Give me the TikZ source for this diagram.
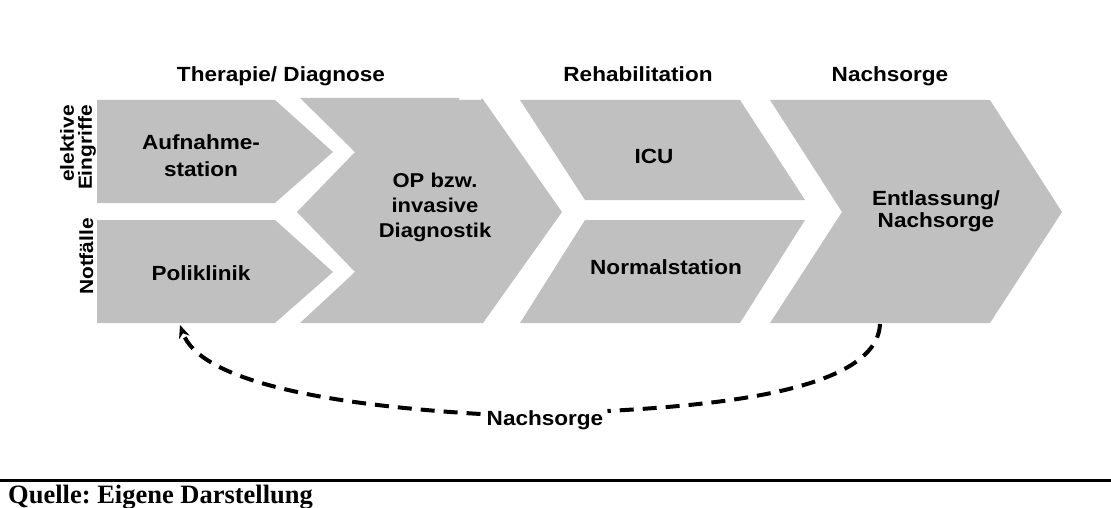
\documentclass[tikz,border=0pt]{standalone}
\usepackage{fontspec}
\setmainfont{Liberation Sans}
\newfontfamily\hvs[FakeStretch=1.1]{Liberation Sans}
\newfontfamily\tms{Liberation Serif}
\usetikzlibrary{arrows.meta}
\definecolor{boxgray}{HTML}{C0C0C0}
\tikzset{
  chev/.style={fill=boxgray, draw=none},
  lbl/.style={font=\hvs\bfseries\fontsize{20.5}{22}\selectfont, inner sep=0pt, align=center, text=black},
  side/.style={font=\hvs\bfseries\fontsize{19}{18}\selectfont, inner sep=0pt, align=right, rotate=90},
  loop/.style={line width=4pt, dash pattern=on 14pt off 9pt, black},
}
\begin{document}
\frenchspacing
\begin{tikzpicture}[x=1pt,y=-1pt]
\useasboundingbox (0,0) rectangle (1111,508);
% chevrons
\fill[chev] (97,100) -- (275,100) -- (333,152) -- (275,203) -- (97,203) -- cycle;
\fill[chev] (97,220) -- (275,220) -- (333,272) -- (275,323) -- (97,323) -- cycle;
\fill[chev] (300,98) -- (459,98) -- (459,100) -- (481,100) -- (482,98) -- (562,212) -- (483,323)
  -- (300,323) -- (355,272) -- (297,212) -- (355,152) -- cycle;
\fill[chev] (520,100) -- (740,100) -- (805,200) -- (585,200) -- cycle;
\fill[chev] (585,220) -- (805,220) -- (740,323) -- (520,323) -- cycle;
\fill[chev] (770,100) -- (990,100) -- (1062,212) -- (990,323) -- (770,323) -- (842,212) -- cycle;
% headers
\node[lbl, anchor=base] (h1) at (281,82) {Therapie/ Diagnose};
\node[lbl, anchor=base] (h2) at (638,82) {Rehabilitation};
\node[lbl, anchor=base] (h3) at (890,82) {Nachsorge};
% side labels
\node[side, anchor=south east] (el) at (96,105) {elektive\\Eingriffe};
\node[side, anchor=base east] (nf) at (93,218) {Notfälle};
% box labels
\node[lbl, font=\hvs\bfseries\fontsize{20.5}{27}\selectfont] (auf) at (201,155.5) {Aufnahme-\\station};
\node[lbl] (poli) at (201,273) {Poliklinik};
\node[lbl, font=\hvs\bfseries\fontsize{20}{25}\selectfont] (op) at (435,207) {OP bzw.\\invasive\\Diagnostik};
\node[lbl] (icu) at (654,156) {ICU};
\node[lbl] (norm) at (666,267.5) {Normalstation};
\node[lbl, font=\hvs\bfseries\fontsize{20.5}{22}\selectfont] (ent) at (936,211.5) {Entlassung/\\Nachsorge};
% loop
\node[lbl, anchor=base] (ns) at (545,425) {Nachsorge};
\coordinate (entB) at (880,324);
\coordinate (poliB) at (180,325);
\draw[loop] (entB) .. controls (877,390) and (720,405) .. ([xshift=4pt]ns.east |- 0,411);
\draw[loop, -{Stealth[length=13pt,width=11pt]}] ([xshift=-6pt]ns.west |- 0,414) .. controls (330,405) and (200,382) .. (poliB);
% source line
\draw[line width=3pt] (0,480) -- (1111,480);
\node[font=\tms\bfseries\fontsize{26.5}{28}\selectfont, inner sep=0pt, anchor=base west] (src) at (8,503) {Quelle: Eigene Darstellung};
\end{tikzpicture}
\end{document}
